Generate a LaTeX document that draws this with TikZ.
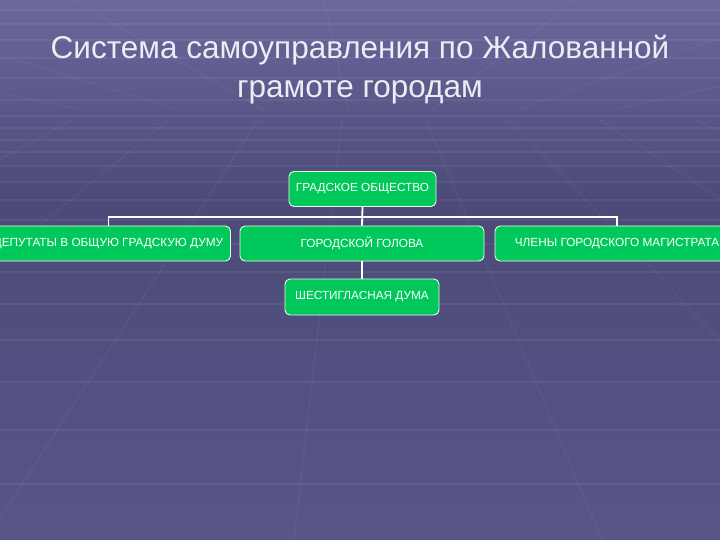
\documentclass[tikz,border=0pt]{standalone}
\usepackage{fontspec}
\setmainfont{Liberation Sans}
\definecolor{bgtop}{RGB}{106,104,156}
\definecolor{bgmid}{RGB}{76,74,120}
\definecolor{bgbot}{RGB}{88,86,136}
\definecolor{boxgreen}{RGB}{0,200,90}
\definecolor{titlecol}{RGB}{236,236,244}
\tikzset{
  orgbox/.style={draw=white!90!green, line width=0.9pt, fill=boxgreen, rounded corners=5pt,
    text=white, font=\fontsize{11.8}{13}\selectfont, minimum height=35pt, inner sep=2pt},
  link/.style={draw=white, line width=1.8pt},
  gridline/.style={draw=white, opacity=0.06, line width=1.5pt}
}
\begin{document}
\begin{tikzpicture}[x=1pt,y=-1pt]
\useasboundingbox (0,0) rectangle (720,540);
\clip (0,0) rectangle (720,540);
\shade[top color=bgtop, bottom color=bgmid] (0,0) rectangle (720,200);
\shade[top color=bgmid, bottom color=bgbot] (0,200) rectangle (720,540);
% faint floor grid
\foreach \yy in {10,24,40,58,78,100,116,128,140,152,166,182,200,220,244,272,304,340,382,430,484}
  \draw[gridline] (0,\yy) -- (720,\yy);
\foreach \xx in {-500,-300,-120,40,190,330,470,610,760,920,1100}
  \draw[gridline, opacity=0.04] ({\xx*0.6+144},120) -- ({(\xx-360)*2.2+360},540);
\foreach \xx in {-300,-100,60,200,340,480,620,780,960}
  \draw[gridline, opacity=0.04] ({\xx*0.6+144},110) -- ({(\xx-360)*1.8+360},0);
% title
\node[text=titlecol, font=\fontsize{31.5}{39}\selectfont, align=center] (title) at (360,70)
  {Система самоуправления по Жалованной\\грамоте городам};
% boxes
\node[orgbox, minimum width=147pt] (soc) at (362.5,189) {ГРАДСКОЕ ОБЩЕСТВО};
\node[orgbox, minimum width=244pt] (dep) at (108.5,243.5) {ДЕПУТАТЫ В ОБЩУЮ ГРАДСКУЮ ДУМУ};
\node[orgbox, minimum width=244pt] (gol) at (362,243.5) {ГОРОДСКОЙ ГОЛОВА};
\node[orgbox, minimum width=244pt] (mag) at (617,243.5) {ЧЛЕНЫ ГОРОДСКОГО МАГИСТРАТА};
\node[orgbox, minimum width=154pt, minimum height=36pt] (six) at (362,297) {ШЕСТИГЛАСНАЯ ДУМА};
% connectors
\coordinate (bus) at (362,217);
\draw[link] (soc.south) -- (gol.north);
\draw[link] (dep.north) |- (bus) -| (mag.north);
\draw[link] (gol.south) -- (six.north);
\end{tikzpicture}
\end{document}
